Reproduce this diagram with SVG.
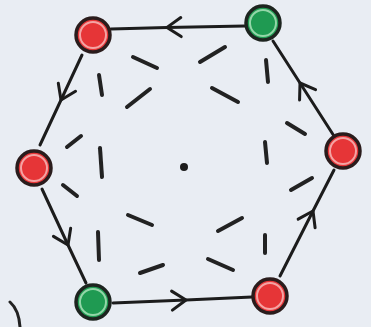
<svg xmlns="http://www.w3.org/2000/svg" width="371" height="327" viewBox="0 0 371 327">
<defs>
<style>
.edge{fill:none;stroke:#1c1c1c;stroke-width:3;stroke-linecap:round;stroke-linejoin:round;marker-mid:url(#chev)}
.dash{stroke:#222;stroke-width:4;stroke-linecap:round}
.red circle.body{fill:#e63537;stroke:#2a1c1c;stroke-width:3.5}
.red circle.ring{fill:none;stroke:#f4a3a3;stroke-width:2}
.green circle.body{fill:#1f9a52;stroke:#1d241f;stroke-width:3.5}
.green circle.ring{fill:none;stroke:#93d6a8;stroke-width:2}
</style>
<marker id="chev" markerUnits="userSpaceOnUse" viewBox="-18 -12 22 24" markerWidth="22" markerHeight="24" refX="0" refY="0" orient="auto" overflow="visible">
<path d="M-14,-9.5 L0,0 L-14,9.5" fill="none" stroke="#1c1c1c" stroke-width="3" stroke-linecap="round" stroke-linejoin="round"/>
</marker>
</defs>
<rect width="371" height="327" fill="#e9edf3"/>
<g id="connectors">
<polyline class="edge" points="245,26 167,27.4 111,29"/>
<polyline class="edge" points="82,55 61,100 40,145"/>
<polyline class="edge" points="42,189 68,245 86,283"/>
<polyline class="edge" points="113,303 186,300 252,297"/>
<polyline class="edge" points="280,276 313,211 334,170"/>
<polyline class="edge" points="334,136 300,83 273,41"/>
</g>
<g id="dashes">
<line class="dash" x1="133" y1="57" x2="157" y2="68"/>
<line class="dash" x1="200" y1="62" x2="225" y2="47"/>
<line class="dash" x1="99" y1="75" x2="102" y2="95"/>
<line class="dash" x1="266" y1="60" x2="268" y2="82"/>
<line class="dash" x1="127" y1="107" x2="150" y2="89"/>
<line class="dash" x1="212" y1="88" x2="238" y2="102"/>
<line class="dash" x1="67" y1="147" x2="81" y2="136"/>
<line class="dash" x1="287" y1="123" x2="305" y2="134"/>
<line class="dash" x1="100" y1="148" x2="102" y2="177"/>
<line class="dash" x1="265" y1="142" x2="267" y2="163"/>
<line class="dash" x1="63" y1="185" x2="77" y2="196"/>
<line class="dash" x1="291" y1="190" x2="312" y2="178"/>
<line class="dash" x1="128" y1="215" x2="152" y2="225"/>
<line class="dash" x1="218" y1="231" x2="242" y2="218"/>
<line class="dash" x1="98" y1="232" x2="99" y2="260"/>
<line class="dash" x1="265" y1="235" x2="265" y2="253"/>
<line class="dash" x1="140" y1="273" x2="163" y2="265"/>
<line class="dash" x1="208" y1="259" x2="233" y2="270"/>
</g>
<g id="center"><circle cx="184" cy="167" r="4" fill="#1c1c1c"/></g>
<path d="M10,302 Q19,310 20,327" fill="none" stroke="#222" stroke-width="3" stroke-linecap="round"/>
<g id="n-topleft" class="red"><circle class="body" cx="93" cy="35" r="17"/><circle class="ring" cx="93" cy="35" r="13"/></g>
<g id="n-topright" class="green"><circle class="body" cx="263" cy="23" r="17"/><circle class="ring" cx="263" cy="23" r="13"/></g>
<g id="n-right" class="red"><circle class="body" cx="343" cy="151" r="17"/><circle class="ring" cx="343" cy="151" r="13"/></g>
<g id="n-bottomright" class="red"><circle class="body" cx="270" cy="296" r="17"/><circle class="ring" cx="270" cy="296" r="13"/></g>
<g id="n-bottomleft" class="green"><circle class="body" cx="93" cy="302" r="17"/><circle class="ring" cx="93" cy="302" r="13"/></g>
<g id="n-left" class="red"><circle class="body" cx="34" cy="168" r="17"/><circle class="ring" cx="34" cy="168" r="13"/></g>
</svg>
